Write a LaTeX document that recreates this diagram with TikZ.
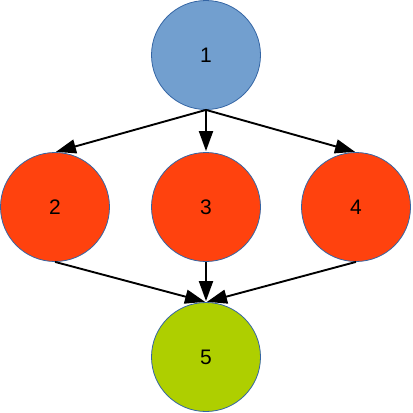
\documentclass[tikz,border=0pt]{standalone}
\usepackage{fontspec}
\setmainfont{Liberation Sans}
\usetikzlibrary{arrows.meta}
\definecolor{cblue}{HTML}{729FCF}
\definecolor{cred}{HTML}{FF420E}
\definecolor{cgreen}{HTML}{AECF00}
\definecolor{cline}{HTML}{3465A4}
\begin{document}
\begin{tikzpicture}[x=1pt,y=-1pt,
  vert/.style={circle,draw=cline,line width=0.8pt,minimum size=109pt,inner sep=0pt,font=\fontsize{21}{21}\selectfont},
  conn/.style={line width=1.9pt,-{Triangle[length=20pt,width=14pt]},shorten >=1pt}]
\useasboundingbox (0,0) rectangle (413,413);
\node[vert,fill=cblue] (n1) at (206,55) {1};
\node[vert,fill=cred] (n2) at (55,207) {2};
\node[vert,fill=cred] (n3) at (206,207) {3};
\node[vert,fill=cred] (n4) at (356,207) {4};
\node[vert,fill=cgreen] (n5) at (206,357) {5};
\draw[conn] (n1.south) -- (n2.north);
\draw[conn] (n1.south) -- (n3.north);
\draw[conn] (n1.south) -- (n4.north);
\draw[conn] (n2.south) -- (n5.north);
\draw[conn] (n3.south) -- (n5.north);
\draw[conn] (n4.south) -- (n5.north);
\end{tikzpicture}
\end{document}
